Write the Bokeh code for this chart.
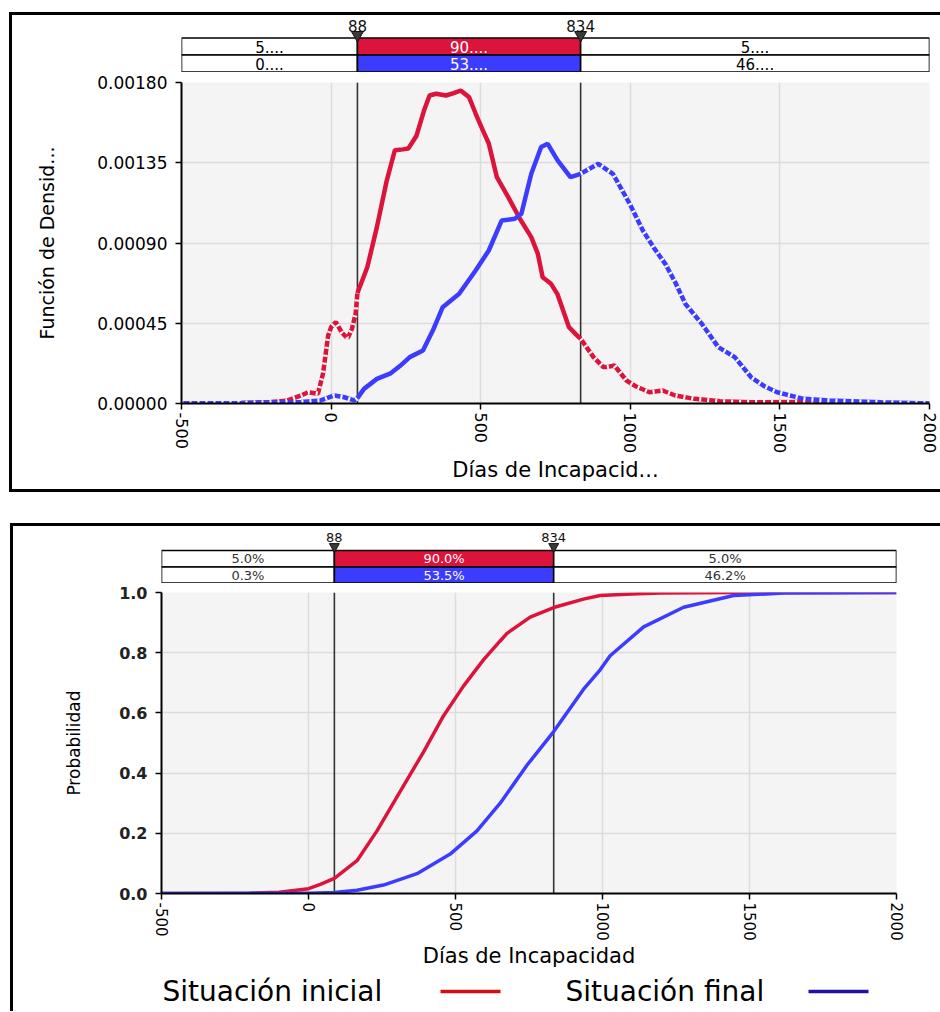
import numpy as np
from bokeh.plotting import figure
from bokeh.models import Range1d, FixedTicker, PrintfTickFormatter, Span
from bokeh.layouts import column
from bokeh.embed import file_html
from bokeh.resources import INLINE
from bokeh.core.properties import value

# ---------------- data ----------------
series_names = ["Situación inicial", "Situación final"]
thresholds = [88, 834]
pct_inicial = [5.0, 90.0, 5.0]
pct_final = [0.3, 53.5, 46.2]

dens_x_inicial = [-500, -300, -200, -150, -100, -77, -44, -27, -10, 0, 16, 35, 55, 70, 82, 88,
                  121, 153, 186, 213, 240, 258, 285, 310, 329, 351, 384, 410, 433, 461, 483, 505,
                  527, 554, 592, 631, 669, 691, 707, 735, 756, 795, 820, 834, 877, 910, 921, 947,
                  987, 1020, 1064, 1108, 1150, 1215, 1300, 1403, 1568, 1700, 2000]
dens_y_inicial = [0.0, 0.000003, 0.000008, 0.000015, 0.000045, 0.000063, 0.000055, 0.000168,
                  0.000380, 0.000428, 0.000456, 0.000400, 0.000364, 0.000420, 0.000504, 0.000620,
                  0.000764, 0.000989, 0.001250, 0.001420, 0.001425, 0.001430, 0.001500, 0.001640,
                  0.001727, 0.001737, 0.001727, 0.001740, 0.001755, 0.001718, 0.001626, 0.001540,
                  0.001458, 0.001269, 0.001157, 0.001036, 0.000933, 0.000839, 0.000708, 0.000671,
                  0.000615, 0.000428, 0.000385, 0.000363, 0.000260, 0.000204, 0.000204, 0.000213,
                  0.000129, 0.000095, 0.000063, 0.000073, 0.000045, 0.000026, 0.000012, 0.000007,
                  0.000008, 0.000002, 0.0]

dens_x_final = [-500, -300, -100, -35, 11, 44, 77, 88, 110, 153, 197, 230, 263, 307, 340, 373,
                428, 483, 527, 570, 614, 636, 669, 702, 724, 757, 800, 834, 893, 942, 998, 1042,
                1080, 1118, 1150, 1184, 1239, 1294, 1349, 1404, 1450, 1491, 1579, 1666, 1840, 2000]
dens_y_final = [0.0, 0.000003, 0.000008, 0.000017, 0.000045, 0.000035, 0.000017, 0.000030,
                0.000082, 0.000138, 0.000167, 0.000210, 0.000260, 0.000297, 0.000409, 0.000540,
                0.000615, 0.000746, 0.000858, 0.001026, 0.001036, 0.001064, 0.001288, 0.001438,
                0.001456, 0.001363, 0.001269, 0.001288, 0.001344, 0.001288, 0.001120, 0.000970,
                0.000870, 0.000780, 0.000680, 0.000559, 0.000447, 0.000316, 0.000260, 0.000147,
                0.000095, 0.000063, 0.000026, 0.000017, 0.000007, 0.0]

cdf_x_inicial = [-500, -200, -100, -85, 0, 40, 88, 165, 233, 312, 391, 459, 527, 595, 652, 675,
                 754, 834, 935, 992, 1100, 1196, 1446, 2000]
cdf_y_inicial = [0.0, 0.001, 0.004, 0.006, 0.016, 0.030, 0.050, 0.109, 0.208, 0.339, 0.470, 0.590,
                 0.689, 0.776, 0.839, 0.864, 0.918, 0.950, 0.978, 0.990, 0.995, 0.998, 1.0, 1.0]

cdf_x_final = [-500, 0, 88, 165, 255, 369, 482, 573, 652, 743, 834, 935, 992, 1026, 1140, 1276,
               1446, 1616, 2000]
cdf_y_final = [0.0, 0.001, 0.003, 0.011, 0.028, 0.066, 0.131, 0.208, 0.300, 0.426, 0.538, 0.678,
               0.743, 0.790, 0.886, 0.951, 0.990, 0.998, 1.0]

x_ticks = [-500, 0, 500, 1000, 1500, 2000]
dens_ticks = [0.0, 0.00045, 0.00090, 0.00135, 0.00180]
prob_ticks = [0.0, 0.2, 0.4, 0.6, 0.8, 1.0]
X_MIN, X_MAX = -500, 2000

# ---------------- style ----------------
RED = "#DC143C"
BLUE = "#3C3CFF"
LEG_RED = "#D01010"
LEG_BLUE = "#2010A8"
FONT = "DejaVu Sans"
BG = "#F4F4F4"
GRID = "#DCDCDC"

W1, L1, R1 = 928, 169, 11     # top panel: width, frame left/right borders
W2, L2, R2 = 927, 148, 44     # bottom panel


def header(xr, width, height, left, right, rows, txt_size, txt_col, lbl_y, lbl_size,
           tri_y, tri_size, short):
    h = figure(width=width, height=height, x_range=xr, y_range=Range1d(0, height),
               output_backend="svg", toolbar_location=None,
               x_axis_location=None, y_axis_location=None,
               min_border_left=left, min_border_right=right,
               min_border_top=0, min_border_bottom=0)
    h.grid.visible = False
    h.outline_line_color = None
    h.background_fill_color = "white"
    h.border_fill_color = "white"
    bounds = [X_MIN] + thresholds + [X_MAX]
    lefts, rights = bounds[:-1], bounds[1:]
    centers = [(a + b) / 2 for a, b in zip(lefts, rights)]
    for (bot, top), pcts, col in zip(rows, [pct_inicial, pct_final], [RED, BLUE]):
        h.quad(left=lefts, right=rights, bottom=bot, top=top,
               fill_color=["white", col, "white"], line_color="black", line_width=1.6)
        if short:
            labels = [f"{int(v)}...." for v in pcts]
        else:
            labels = [f"{v:.1f}%" for v in pcts]
        h.text(x=centers, y=[(bot + top) / 2] * 3, text=labels,
               text_color=[txt_col, "white", txt_col], text_align="center",
               text_baseline="middle", text_font=value(FONT),
               text_font_size=value(txt_size))
    h.text(x=thresholds, y=[lbl_y] * 2, text=[str(t) for t in thresholds],
           text_align="center", text_baseline="middle", text_font=value(FONT),
           text_font_size=value(lbl_size), text_color="#111111")
    h.scatter(x=thresholds, y=[tri_y] * 2, marker="inverted_triangle", size=tri_size,
              fill_color="#3a3a3a", line_color="#111111", line_width=1)
    return h


def style_main(p, ytick_fmt, ytick_size, ytick_style, xtick_size, ylabel_size, xlabel_size,
               ylabel_standoff, xlabel_standoff):
    p.background_fill_color = BG
    p.border_fill_color = "white"
    p.outline_line_color = None
    p.grid.grid_line_color = GRID
    p.grid.grid_line_width = 1.5
    p.xaxis.ticker = FixedTicker(ticks=x_ticks)
    p.xaxis.formatter = PrintfTickFormatter(format="%d")
    p.xaxis.major_label_orientation = "vertical"
    p.yaxis.formatter = PrintfTickFormatter(format=ytick_fmt)
    for ax in (p.xaxis[0], p.yaxis[0]):
        ax.axis_line_color = "black"
        ax.axis_line_width = 2
        ax.major_tick_line_color = "black"
        ax.major_tick_line_width = 1.5
        ax.major_tick_out = 6
        ax.major_tick_in = 0
        ax.minor_tick_line_color = None
        ax.axis_label_text_font = FONT
        ax.axis_label_text_font_style = "normal"
        ax.axis_label_text_color = "black"
        ax.major_label_text_font = FONT
        ax.major_label_text_color = "black"
    p.yaxis.major_label_text_font_size = ytick_size
    p.yaxis.major_label_text_font_style = ytick_style
    p.yaxis.major_label_standoff = 8
    p.xaxis.major_label_text_font_size = xtick_size
    p.xaxis.major_label_standoff = 3
    p.yaxis.axis_label_text_font_size = ylabel_size
    p.xaxis.axis_label_text_font_size = xlabel_size
    p.yaxis.axis_label_standoff = ylabel_standoff
    p.xaxis.axis_label_standoff = xlabel_standoff
    for t in thresholds:
        p.add_layout(Span(location=t, dimension="height", line_color="#333333",
                          line_width=1.6, level="underlay"))


def split(xs, ys, lo, hi):
    xs = np.asarray(xs, dtype=float)
    ys = np.asarray(ys, dtype=float)
    a = xs <= lo
    b = (xs >= lo) & (xs <= hi)
    c = xs >= hi
    return (xs[a], ys[a]), (xs[b], ys[b]), (xs[c], ys[c])


# ---------------- top panel ----------------
xr1 = Range1d(X_MIN, X_MAX)
h1 = header(xr1, W1, 57, L1, R1, [(17.5, 34.5), (0.5, 17.5)], "15px", "black", 47, "15px",
            37.5, 12, True)

p1 = figure(width=W1, height=417, x_range=xr1, y_range=Range1d(0, 0.0018),
            output_backend="svg", toolbar_location=None,
            min_border_left=L1, min_border_right=R1, min_border_top=10, min_border_bottom=86)
p1.yaxis.ticker = FixedTicker(ticks=dens_ticks)
p1.ygrid.ticker = FixedTicker(ticks=dens_ticks)
p1.xaxis.axis_label = "Días de Incapacid..."
p1.yaxis.axis_label = "Función de Densid..."
style_main(p1, "%.5f", "17px", "normal", "16px", "19px", "21px", 36, 2)

for xs, ys, col in [(dens_x_inicial, dens_y_inicial, RED), (dens_x_final, dens_y_final, BLUE)]:
    left, mid, right = split(xs, ys, thresholds[0], thresholds[1])
    for seg in (left, right):
        p1.line(seg[0], seg[1], line_color=col, line_width=4.5)
        p1.line(seg[0], seg[1], line_color="white", line_width=4.5, line_dash="2 6")
    p1.line(mid[0], mid[1], line_color=col, line_width=4.5)

top_panel = column(h1, p1, spacing=0,
                   styles={"border-top": "3px solid black", "border-left": "3px solid black",
                           "border-bottom": "3px solid black",
                           "margin-top": "12px", "margin-left": "9px"})

# ---------------- bottom panel ----------------
xr2 = Range1d(X_MIN, X_MAX)
h2 = header(xr2, W2, 57, L2, R2, [(16.5, 33), (0.5, 16.5)], "13px", "#333333", 46, "13px",
            37, 10, False)

p2 = figure(width=W2, height=387, x_range=xr2, y_range=Range1d(0, 1.0),
            output_backend="svg", toolbar_location=None,
            min_border_left=L2, min_border_right=R2, min_border_top=9, min_border_bottom=73)
p2.yaxis.ticker = FixedTicker(ticks=prob_ticks)
p2.ygrid.ticker = FixedTicker(ticks=prob_ticks)
p2.xaxis.axis_label = "Días de Incapacidad"
p2.yaxis.axis_label = "Probabilidad"
style_main(p2, "%.1f", "16px", "bold", "15px", "17px", "21px", 32, 0)
p2.yaxis.major_label_text_color = "#222222"

p2.line(cdf_x_inicial, cdf_y_inicial, line_color=RED, line_width=3.5)
p2.line(cdf_x_final, cdf_y_final, line_color=BLUE, line_width=3.5)

# legend strip (x in page pixels over the plot frame span)
lg = figure(width=W2, height=41, x_range=Range1d(161, 896), y_range=Range1d(0, 41),
            output_backend="svg", toolbar_location=None,
            x_axis_location=None, y_axis_location=None,
            min_border_left=L2, min_border_right=R2, min_border_top=0, min_border_bottom=0)
lg.grid.visible = False
lg.outline_line_color = None
lg.background_fill_color = "white"
lg.border_fill_color = "white"
lg.text(x=[162, 565], y=[20, 20], text=series_names, text_align="left", text_baseline="middle",
        text_font=value(FONT), text_font_size=value("28px"), text_color="black")
lg.segment(x0=[440, 808], y0=[20, 20], x1=[500, 868], y1=[20, 20],
           line_color=[LEG_RED, LEG_BLUE], line_width=3.5)

bottom_panel = column(h2, p2, lg, spacing=0,
                      styles={"border-top": "3px solid black", "border-left": "3px solid black",
                              "margin-top": "31px", "margin-left": "10px"})

root = column(top_panel, bottom_panel, spacing=0)

open("out.html", "w").write(file_html(root, INLINE))
